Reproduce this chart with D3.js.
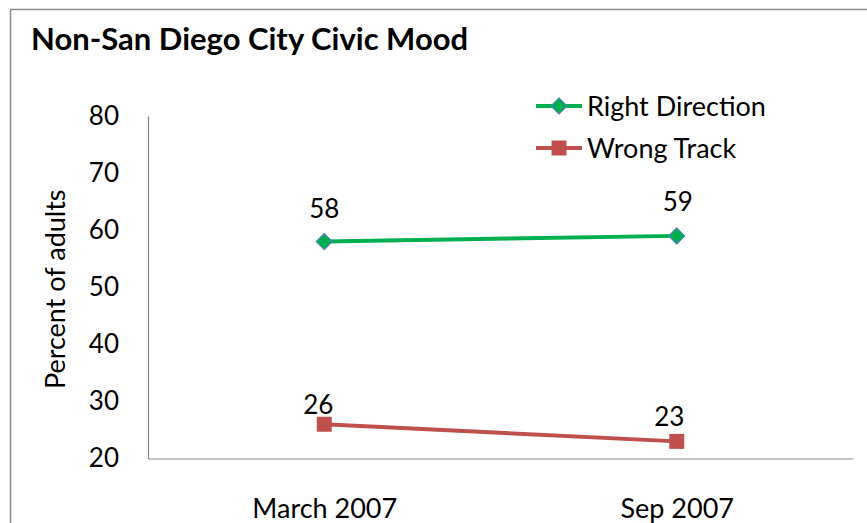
<!DOCTYPE html>
<html>
<head>
<meta charset="utf-8">
<script src="https://cdn.jsdelivr.net/npm/d3@7"></script>
<style>
  body { margin: 0; background: #fff; }
  text { font-family: Lato, "Open Sans", sans-serif; fill: #000; }
</style>
</head>
<body>
<svg id="chart" width="867" height="523"></svg>
<script>
// chart data
var categories = ['March 2007', 'Sep 2007'];
var rightDirection = [58, 59];
var wrongTrack = [26, 23];
var yTicks = [20, 30, 40, 50, 60, 70, 80];
var seriesNames = ['Right Direction', 'Wrong Track'];

var svg = d3.select('#chart');
var margin = {top: 116, right: 14, bottom: 64.5, left: 148};
var width = 867 - margin.left - margin.right;
var height = 523 - margin.top - margin.bottom;

// outer frame (cut off at right/bottom like the original)
svg.append('rect')
    .attr('x', 10.5).attr('y', 9.5)
    .attr('width', 900).attr('height', 600)
    .style('fill', 'none')
    .style('stroke', '#8c8c8c')
    .style('stroke-width', 1.5);

svg.append('text')
    .attr('x', 31).attr('y', 50)
    .style('font-size', '31px')
    .style('font-weight', 'bold')
    .text('Non-San Diego City Civic Mood');

var g = svg.append('g')
    .attr('transform', 'translate(' + margin.left + ',' + margin.top + ')');

var x = d3.scalePoint().domain(categories).range([0, width]).padding(0.5);
var y = d3.scaleLinear().domain([20, 80]).range([height, 0]);

// axes
var yAxis = g.append('g')
    .call(d3.axisLeft(y).tickValues(yTicks).tickSize(0).tickPadding(29));
yAxis.select('.domain').style('stroke', '#868686').style('stroke-width', 1.2);
yAxis.selectAll('text').style('font-size', '26px').style('font-family', 'Lato, sans-serif');

var xAxis = g.append('g')
    .attr('transform', 'translate(0,' + height + ')')
    .call(d3.axisBottom(x).tickSize(0).tickPadding(40));
xAxis.select('.domain').style('stroke', '#868686').style('stroke-width', 1.2);
xAxis.selectAll('text').style('font-size', '27px').style('font-family', 'Lato, sans-serif');

g.append('text')
    .attr('transform', 'translate(-83,' + (height / 2 + 2) + ') rotate(-90)')
    .style('text-anchor', 'middle')
    .style('font-size', '27px')
    .text('Percent of adults');

// label nudges are per point, as placed in the original
var series = [
    {name: seriesNames[0], values: rightDirection, color: '#00B050', marker: 'diamond',
        labelOffset: [[0, -24], [1, -25]]},
    {name: seriesNames[1], values: wrongTrack, color: '#C0504D', marker: 'square',
        labelOffset: [[-6, -10], [-7.5, -15]]}
];

var line = d3.line()
    .x(function (d, i) { return x(categories[i]); })
    .y(function (d) { return y(d); });

function drawMarker(sel, s) {
    if (s.marker === 'diamond') {
        sel.append('path')
            .attr('d', 'M0,-8L8,0L0,8L-8,0Z')
            .style('fill', s.color)
            .style('stroke', '#4F81BD')
            .style('stroke-width', 1.2);
    } else {
        sel.append('rect')
            .attr('x', -7.5).attr('y', -7.5)
            .attr('width', 15).attr('height', 15)
            .style('fill', s.color);
    }
}

series.forEach(function (s) {
    g.append('path')
        .datum(s.values)
        .attr('d', line)
        .style('fill', 'none')
        .style('stroke', s.color)
        .style('stroke-width', 4);

    s.values.forEach(function (v, i) {
        var m = g.append('g')
            .attr('transform', 'translate(' + x(categories[i]) + ',' + y(v) + ')');
        drawMarker(m, s);
    });
    s.values.forEach(function (v, i) {
        g.append('text')
            .attr('x', x(categories[i]) + s.labelOffset[i][0])
            .attr('y', y(v) + s.labelOffset[i][1])
            .style('text-anchor', 'middle')
            .style('font-size', '26px')
            .text(v);
    });
});

// legend
var legend = svg.append('g').attr('transform', 'translate(536,0)');
series.forEach(function (s, i) {
    var row = legend.append('g').attr('transform', 'translate(0,' + (106 + i * 42) + ')');
    row.append('line')
        .attr('x1', 0).attr('x2', 46)
        .style('stroke', s.color)
        .style('stroke-width', 4);
    var m = row.append('g').attr('transform', 'translate(23,0)');
    drawMarker(m, s);
    row.append('text')
        .attr('x', 51).attr('y', 10)
        .style('font-size', '27px')
        .text(s.name);
});
</script>
</body>
</html>
